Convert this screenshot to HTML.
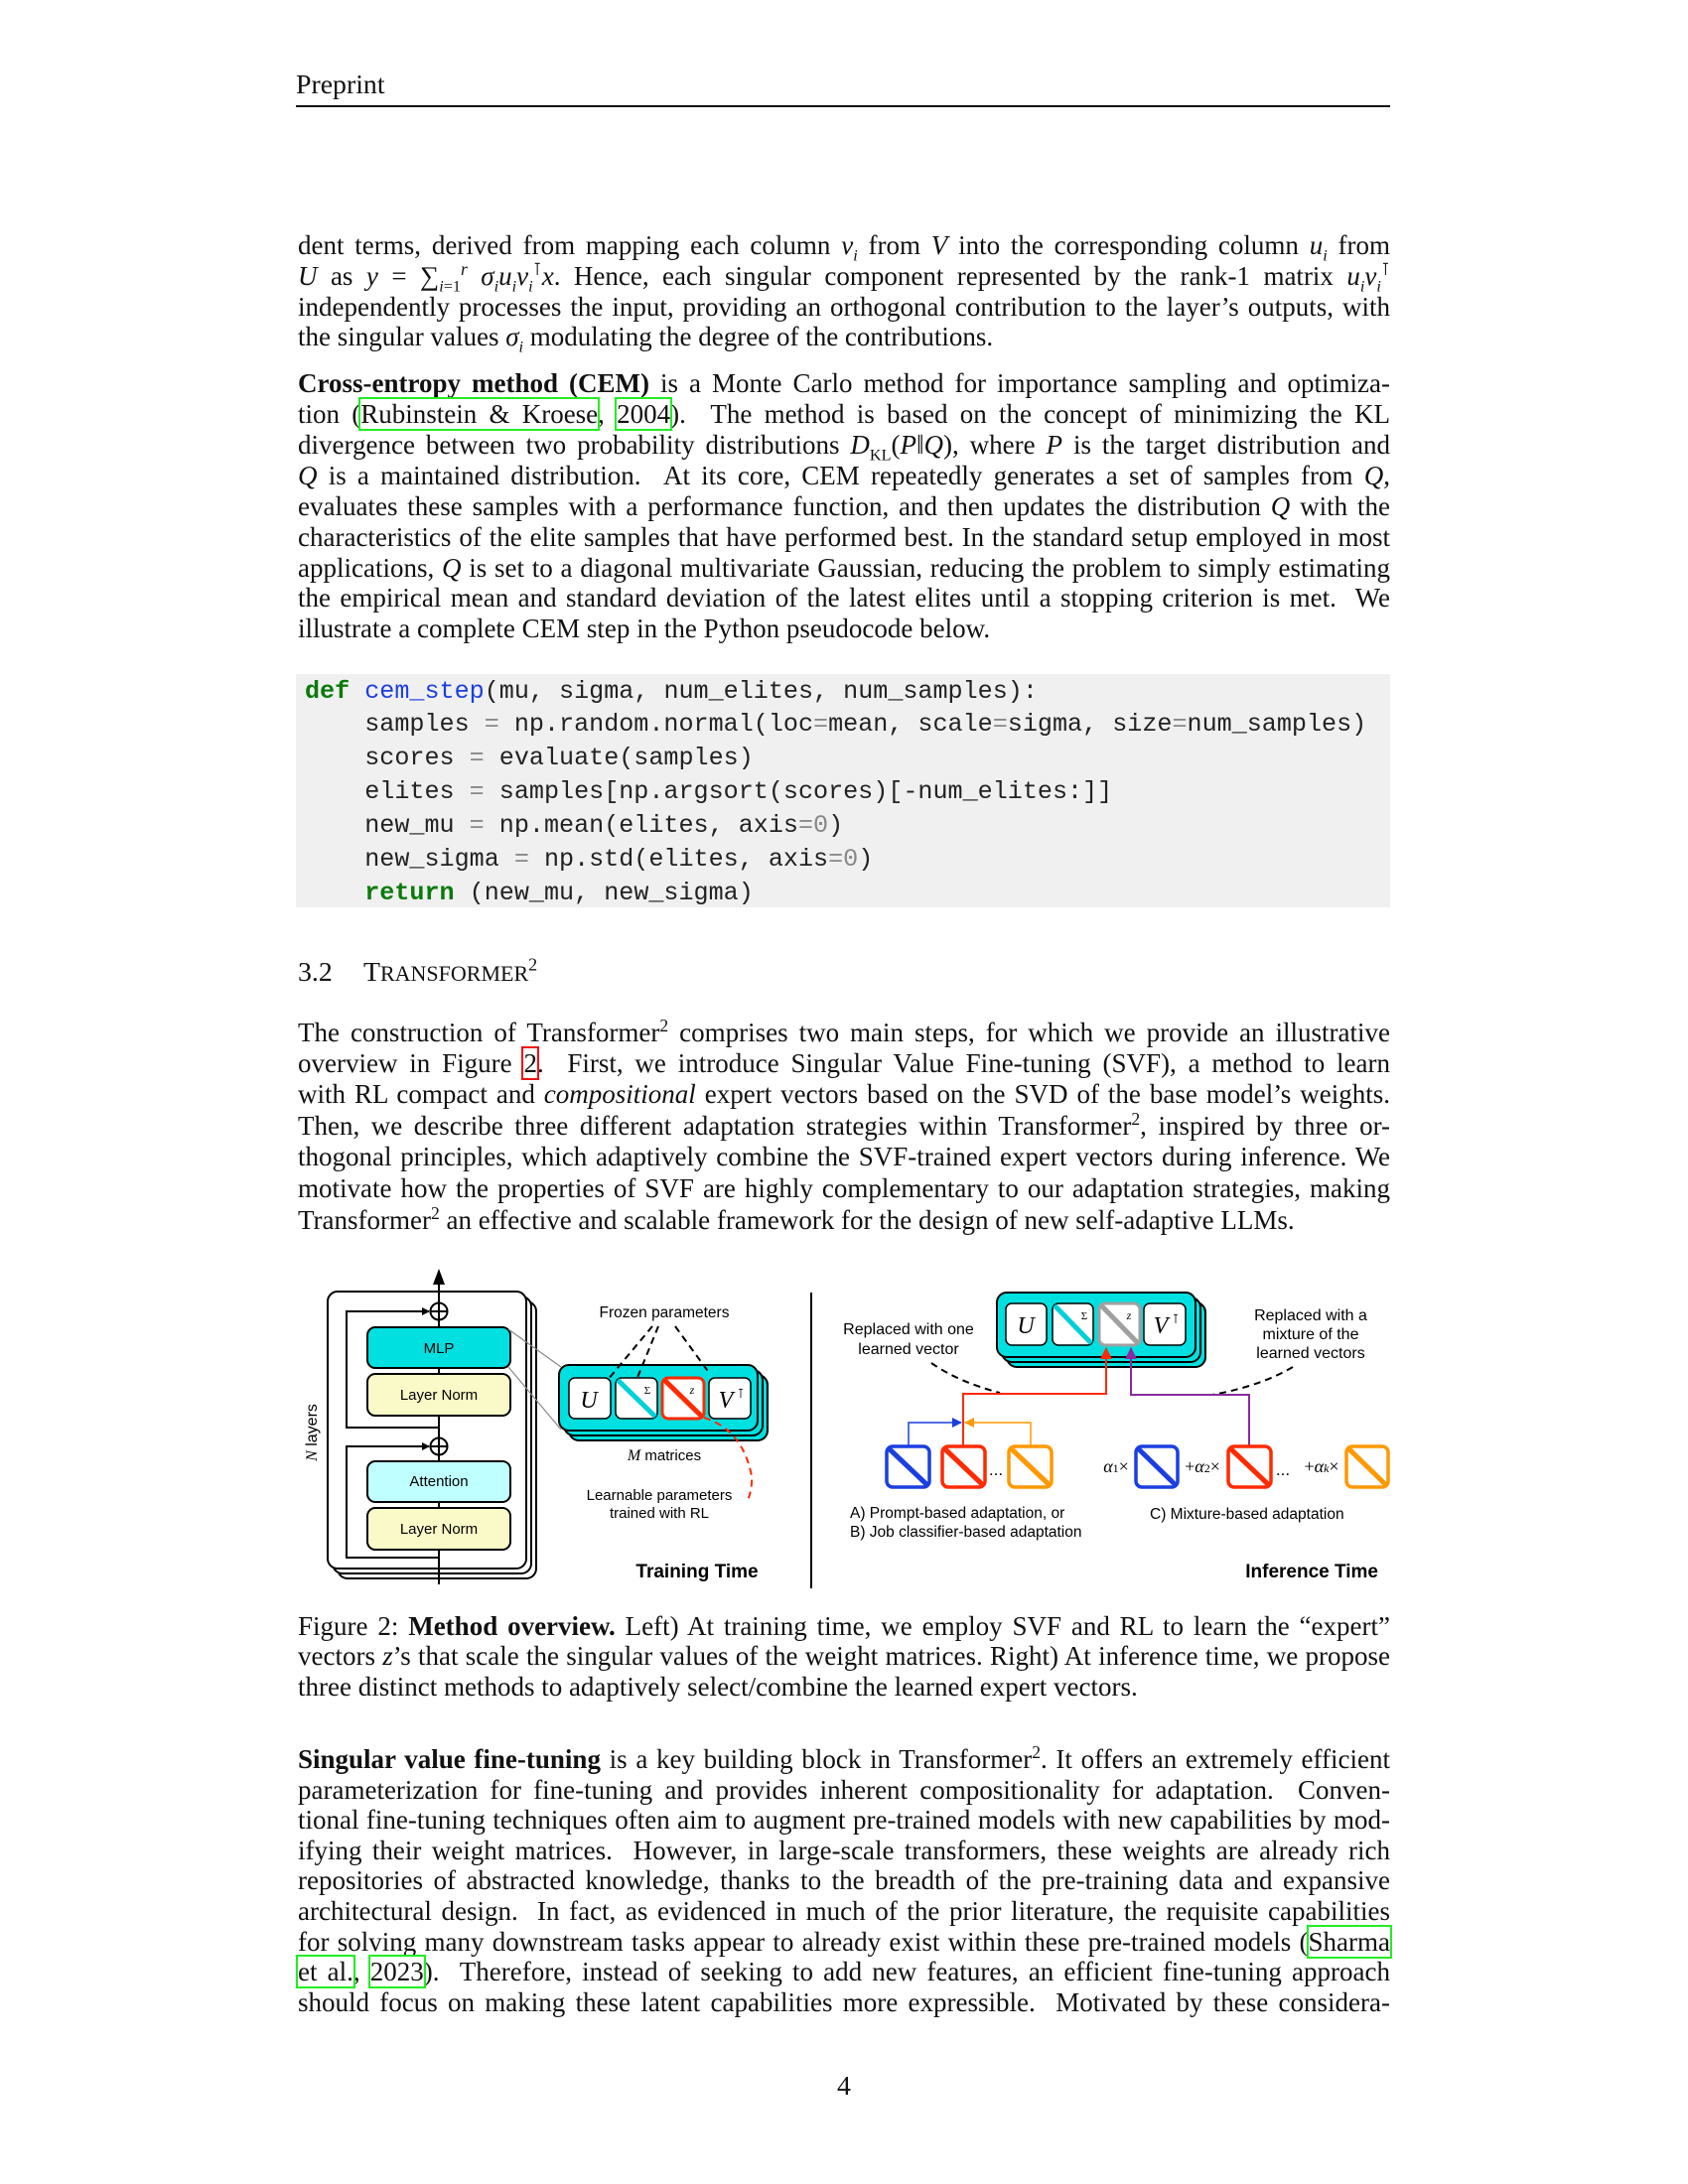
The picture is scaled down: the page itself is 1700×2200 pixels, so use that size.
<!DOCTYPE html>
<html><head><meta charset="utf-8">
<style>
html,body{margin:0;padding:0;background:#fff;}
body{width:1700px;height:2200px;position:relative;overflow:hidden;font-family:"Liberation Serif",serif;color:#111;}
.l{position:absolute;left:300px;width:1100px;font-size:27px;line-height:30px;height:30px;text-align:justify;text-align-last:justify;white-space:nowrap;}
.l.n{text-align-last:left;}
.c{position:absolute;left:307px;font-family:"Liberation Mono",monospace;font-size:25.1px;line-height:30px;white-space:pre;color:#222;}
.g{color:#0a7a0a;font-weight:bold;}
.b{color:#1a3fe0;}
.o{color:#888;}
i{font-style:italic;}
.lk{outline:2.5px solid #22ee22;outline-offset:0px;}
.rk{outline:2.5px solid #ee1111;}
sup{font-size:65%;line-height:0;}
</style></head><body>
<div style="position:absolute;left:298px;top:70px;font-size:27.8px;">Preprint</div>
<div style="position:absolute;left:298px;top:106px;width:1102px;height:2px;background:#111;"></div>

<div class="l" style="top:232px">dent terms, derived from mapping each column <i>v<sub style="font-size:60%">i</sub></i> from <i>V</i> into the corresponding column <i>u<sub style="font-size:60%">i</sub></i> from</div>
<div class="l" style="top:263px"><i>U</i> as <i>y</i> = ∑<sub style="font-size:60%"><i>i</i>=1</sub><sup><i>r</i></sup> <i>σ<sub style="font-size:60%">i</sub>u<sub style="font-size:60%">i</sub>v<sub style="font-size:60%">i</sub></i><sup>⊺</sup><i>x</i>. Hence, each singular component represented by the rank-1 matrix <i>u<sub style="font-size:60%">i</sub>v<sub style="font-size:60%">i</sub></i><sup>⊺</sup></div>
<div class="l" style="top:294px">independently processes the input, providing an orthogonal contribution to the layer’s outputs, with</div>
<div class="l n" style="top:324px">the singular values <i>σ<sub style="font-size:60%">i</sub></i> modulating the degree of the contributions.</div>

<div class="l" style="top:371px"><b>Cross-entropy method (CEM)</b> is a Monte Carlo method for importance sampling and optimiza-</div>
<div class="l" style="top:402px">tion (<span class="lk">Rubinstein &amp; Kroese</span>, <span class="lk">2004</span>). &nbsp;The method is based on the concept of minimizing the KL</div>
<div class="l" style="top:433px">divergence between two probability distributions <i>D</i><sub style="font-size:60%">KL</sub>(<i>P</i>‖<i>Q</i>), where <i>P</i> is the target distribution and</div>
<div class="l" style="top:464px"><i>Q</i> is a maintained distribution. &nbsp;At its core, CEM repeatedly generates a set of samples from <i>Q</i>,</div>
<div class="l" style="top:495px">evaluates these samples with a performance function, and then updates the distribution <i>Q</i> with the</div>
<div class="l" style="top:526px">characteristics of the elite samples that have performed best. In the standard setup employed in most</div>
<div class="l" style="top:557px">applications, <i>Q</i> is set to a diagonal multivariate Gaussian, reducing the problem to simply estimating</div>
<div class="l" style="top:587px">the empirical mean and standard deviation of the latest elites until a stopping criterion is met. &nbsp;We</div>
<div class="l n" style="top:618px">illustrate a complete CEM step in the Python pseudocode below.</div>

<div style="position:absolute;left:298px;top:679px;width:1102px;height:235px;background:#f0f0f0;"></div>
<div class="c" style="top:682px"><span class="g">def</span> <span class="b">cem_step</span>(mu, sigma, num_elites, num_samples):</div>
<div class="c" style="top:715px">    samples <span class="o">=</span> np.random.normal(loc<span class="o">=</span>mean, scale<span class="o">=</span>sigma, size<span class="o">=</span>num_samples)</div>
<div class="c" style="top:749px">    scores <span class="o">=</span> evaluate(samples)</div>
<div class="c" style="top:783px">    elites <span class="o">=</span> samples[np.argsort(scores)[-num_elites:]]</div>
<div class="c" style="top:817px">    new_mu <span class="o">=</span> np.mean(elites, axis<span class="o">=0</span>)</div>
<div class="c" style="top:851px">    new_sigma <span class="o">=</span> np.std(elites, axis<span class="o">=0</span>)</div>
<div class="c" style="top:885px">    <span class="g">return</span> (new_mu, new_sigma)</div>

<div style="position:absolute;left:300px;top:962px;font-size:27.8px;line-height:36px;white-space:nowrap;">3.2<span style="position:absolute;left:66px;">T<span style="font-size:22px">RANSFORMER</span><sup>2</sup></span></div>

<div class="l" style="top:1025px">The construction of Transformer<sup>2</sup> comprises two main steps, for which we provide an illustrative</div>
<div class="l" style="top:1056px">overview in Figure <span class="rk">2</span>. &nbsp;First, we introduce Singular Value Fine-tuning (SVF), a method to learn</div>
<div class="l" style="top:1087px">with RL compact and <i>compositional</i> expert vectors based on the SVD of the base model’s weights.</div>
<div class="l" style="top:1119px">Then, we describe three different adaptation strategies within Transformer<sup>2</sup>, inspired by three or-</div>
<div class="l" style="top:1150px">thogonal principles, which adaptively combine the SVF-trained expert vectors during inference. We</div>
<div class="l" style="top:1182px">motivate how the properties of SVF are highly complementary to our adaptation strategies, making</div>
<div class="l n" style="top:1214px">Transformer<sup>2</sup> an effective and scalable framework for the design of new self-adaptive LLMs.</div>

<svg style="position:absolute;left:0;top:0" width="1700" height="2200" viewBox="0 0 1700 2200" font-family="Liberation Sans, sans-serif">
<defs>
<marker id="ak" markerWidth="8" markerHeight="8" refX="7" refY="4" orient="auto" markerUnits="userSpaceOnUse"><path d="M0,0 L8,4 L0,8 z" fill="#000"/></marker>
<marker id="ar" markerWidth="12" markerHeight="12" refX="11" refY="6" orient="auto" markerUnits="userSpaceOnUse"><path d="M0,0 L12,6 L0,12 z" fill="#ff2a00"/></marker>
<marker id="ap" markerWidth="12" markerHeight="12" refX="11" refY="6" orient="auto" markerUnits="userSpaceOnUse"><path d="M0,0 L12,6 L0,12 z" fill="#8a2aa0"/></marker>
<marker id="ab" markerWidth="10" markerHeight="10" refX="9" refY="5" orient="auto" markerUnits="userSpaceOnUse"><path d="M0,0 L10,5 L0,10 z" fill="#1a3fe0"/></marker>
<marker id="ao" markerWidth="10" markerHeight="10" refX="9" refY="5" orient="auto" markerUnits="userSpaceOnUse"><path d="M0,0 L10,5 L0,10 z" fill="#ff9900"/></marker>
</defs>
<rect x="340" y="1311" width="200" height="279" rx="10" fill="#fff" stroke="#000" stroke-width="2"/>
<rect x="335" y="1306" width="200" height="279" rx="10" fill="#fff" stroke="#000" stroke-width="2"/>
<rect x="330" y="1301" width="200" height="279" rx="10" fill="#fff" stroke="#000" stroke-width="2"/>
<line x1="442" y1="1596" x2="442" y2="1284" stroke="#000" stroke-width="2"/>
<path d="M436,1294 L442,1278 L448,1294 z" fill="#000"/>
<polyline points="442,1438 349,1438 349,1321 432,1321" fill="none" stroke="#000" stroke-width="2" marker-end="url(#ak)"/>
<polyline points="442,1569 349,1569 349,1457 432,1457" fill="none" stroke="#000" stroke-width="2" marker-end="url(#ak)"/>
<circle cx="442" cy="1321" r="8.5" fill="#fff" stroke="#000" stroke-width="2"/>
<line x1="433.5" y1="1321" x2="450.5" y2="1321" stroke="#000" stroke-width="2"/><line x1="442" y1="1312.5" x2="442" y2="1329.5" stroke="#000" stroke-width="2"/>
<circle cx="442" cy="1457" r="8.5" fill="#fff" stroke="#000" stroke-width="2"/>
<line x1="433.5" y1="1457" x2="450.5" y2="1457" stroke="#000" stroke-width="2"/><line x1="442" y1="1448.5" x2="442" y2="1465.5" stroke="#000" stroke-width="2"/>
<rect x="370" y="1337" width="144" height="41" rx="8" fill="#00e0e0" stroke="#000" stroke-width="2"/>
<text x="442" y="1363" font-size="15" text-anchor="middle">MLP</text>
<rect x="370" y="1384" width="144" height="42" rx="8" fill="#fafac8" stroke="#000" stroke-width="2"/>
<text x="442" y="1410" font-size="15" text-anchor="middle">Layer Norm</text>
<rect x="370" y="1472" width="144" height="41" rx="8" fill="#c0ffff" stroke="#000" stroke-width="2"/>
<text x="442" y="1497" font-size="15" text-anchor="middle">Attention</text>
<rect x="370" y="1519" width="144" height="42" rx="8" fill="#fafac8" stroke="#000" stroke-width="2"/>
<text x="442" y="1545" font-size="15" text-anchor="middle">Layer Norm</text>
<text x="0" y="0" font-size="16" text-anchor="middle" transform="translate(319,1443) rotate(-90)"><tspan font-family="Liberation Serif, serif" font-style="italic">N</tspan> layers</text>
<line x1="512" y1="1339" x2="565" y2="1377" stroke="#888" stroke-width="1.2"/>
<line x1="512" y1="1377" x2="565" y2="1440" stroke="#888" stroke-width="1.2"/>
<rect x="573" y="1385" width="200" height="66" rx="10" fill="#00e0e0" stroke="#000" stroke-width="2"/>
<rect x="568" y="1380" width="200" height="66" rx="10" fill="#00e0e0" stroke="#000" stroke-width="2"/>
<rect x="563" y="1375" width="200" height="66" rx="10" fill="#00e0e0" stroke="#000" stroke-width="2"/>
<rect x="573" y="1388" width="42" height="41" rx="6" fill="#fff" stroke="#000" stroke-width="1.5"/>
<text x="593" y="1418" font-size="24" font-family="Liberation Serif, serif" font-style="italic" text-anchor="middle">U</text>
<rect x="620" y="1388" width="42" height="41" rx="6" fill="#fff" stroke="#000" stroke-width="1.5"/>
<line x1="622" y1="1390" x2="660" y2="1427" stroke="#00d0d8" stroke-width="5"/>
<text x="652" y="1404" font-size="11" font-family="Liberation Serif, serif" text-anchor="middle">Σ</text>
<rect x="667" y="1388" width="42" height="41" rx="6" fill="#fff" stroke="#ff2a00" stroke-width="3"/>
<line x1="669" y1="1390" x2="707" y2="1427" stroke="#ff2a00" stroke-width="5"/>
<text x="697" y="1404" font-size="12" font-family="Liberation Serif, serif" font-style="italic" text-anchor="middle">z</text>
<rect x="714" y="1388" width="42" height="41" rx="6" fill="#fff" stroke="#000" stroke-width="1.5"/>
<text x="731" y="1418" font-size="24" font-family="Liberation Serif, serif" font-style="italic" text-anchor="middle">V</text>
<text x="746" y="1408" font-size="13" text-anchor="middle">⊺</text>
<text x="669" y="1327" font-size="15.5" text-anchor="middle">Frozen parameters</text>
<g stroke="#000" stroke-width="2" stroke-dasharray="7,5" fill="none">
<line x1="657" y1="1336" x2="612" y2="1390"/>
<line x1="663" y1="1336" x2="641" y2="1390"/>
<line x1="680" y1="1336" x2="715" y2="1384"/>
</g>
<text x="669" y="1471" font-size="15" text-anchor="middle"><tspan font-family="Liberation Serif, serif" font-style="italic" font-size="16">M</tspan> matrices</text>
<text x="664" y="1511" font-size="15" text-anchor="middle">Learnable parameters</text>
<text x="664" y="1529" font-size="15" text-anchor="middle">trained with RL</text>
<path d="M709,1428 Q748,1440 757,1487 Q758,1500 752,1514" fill="none" stroke="#ff2a00" stroke-width="2" stroke-dasharray="7,5"/>
<text x="702" y="1589" font-size="19" font-weight="bold" text-anchor="middle">Training Time</text>
<line x1="817" y1="1302" x2="817" y2="1600" stroke="#000" stroke-width="2"/>
<rect x="1014" y="1312" width="200" height="65" rx="10" fill="#00e0e0" stroke="#000" stroke-width="2"/>
<rect x="1009" y="1307" width="200" height="65" rx="10" fill="#00e0e0" stroke="#000" stroke-width="2"/>
<rect x="1004" y="1302" width="200" height="65" rx="10" fill="#00e0e0" stroke="#000" stroke-width="2"/>
<rect x="1013" y="1313" width="41" height="42" rx="6" fill="#fff" stroke="#000" stroke-width="1.5"/>
<text x="1033" y="1343" font-size="24" font-family="Liberation Serif, serif" font-style="italic" text-anchor="middle">U</text>
<rect x="1060" y="1313" width="41" height="42" rx="6" fill="#fff" stroke="#000" stroke-width="1.5"/>
<line x1="1062" y1="1315" x2="1099" y2="1353" stroke="#00d0d8" stroke-width="5"/>
<text x="1092" y="1329" font-size="11" font-family="Liberation Serif, serif" text-anchor="middle">Σ</text>
<rect x="1107" y="1313" width="41" height="42" rx="6" fill="#fff" stroke="#a0a0a0" stroke-width="3"/>
<line x1="1109" y1="1315" x2="1146" y2="1353" stroke="#a0a0a0" stroke-width="5"/>
<text x="1137" y="1329" font-size="12" font-family="Liberation Serif, serif" font-style="italic" text-anchor="middle">z</text>
<rect x="1152" y="1313" width="42" height="42" rx="6" fill="#fff" stroke="#000" stroke-width="1.5"/>
<text x="1169" y="1343" font-size="24" font-family="Liberation Serif, serif" font-style="italic" text-anchor="middle">V</text>
<text x="1184" y="1333" font-size="13" text-anchor="middle">⊺</text>
<text x="915" y="1344" font-size="16" text-anchor="middle">Replaced with one</text>
<text x="915" y="1364" font-size="16" text-anchor="middle">learned vector</text>
<text x="1320" y="1330" font-size="16" text-anchor="middle">Replaced with a</text>
<text x="1320" y="1349" font-size="16" text-anchor="middle">mixture of the</text>
<text x="1320" y="1368" font-size="16" text-anchor="middle">learned vectors</text>
<path d="M938,1373 Q965,1392 1007,1403" fill="none" stroke="#000" stroke-width="2" stroke-dasharray="7,5"/>
<path d="M1302,1377 Q1270,1396 1221,1405" fill="none" stroke="#000" stroke-width="2" stroke-dasharray="7,5"/>
<polyline points="970,1457 970,1404 1114,1404 1114,1358" fill="none" stroke="#ff2a00" stroke-width="2" marker-end="url(#ar)"/>
<polyline points="1258,1457 1258,1405 1139,1405 1139,1358" fill="none" stroke="#8a2aa0" stroke-width="2" marker-end="url(#ap)"/>
<polyline points="915,1457 915,1433 968,1433" fill="none" stroke="#1a3fe0" stroke-width="1.5" marker-end="url(#ab)"/>
<polyline points="1038,1457 1038,1433 972,1433" fill="none" stroke="#ff9900" stroke-width="1.5" marker-end="url(#ao)"/>
<g stroke-width="3.5" fill="#fff">
<rect x="893" y="1457" width="43" height="41" rx="6" stroke="#1a3fe0"/>
<line x1="895" y1="1459" x2="934" y2="1496" stroke="#1a3fe0" stroke-width="5"/>
<rect x="949" y="1457" width="43" height="41" rx="6" stroke="#ff2a00"/>
<line x1="951" y1="1459" x2="990" y2="1496" stroke="#ff2a00" stroke-width="5"/>
<rect x="1016" y="1457" width="43" height="41" rx="6" stroke="#ff9900"/>
<line x1="1018" y1="1459" x2="1057" y2="1496" stroke="#ff9900" stroke-width="5"/>
<rect x="1144" y="1457" width="42" height="41" rx="6" stroke="#1a3fe0"/>
<line x1="1146" y1="1459" x2="1184" y2="1496" stroke="#1a3fe0" stroke-width="5"/>
<rect x="1237" y="1457" width="43" height="41" rx="6" stroke="#ff2a00"/>
<line x1="1239" y1="1459" x2="1278" y2="1496" stroke="#ff2a00" stroke-width="5"/>
<rect x="1356" y="1457" width="42" height="41" rx="6" stroke="#ff9900"/>
<line x1="1358" y1="1459" x2="1396" y2="1496" stroke="#ff9900" stroke-width="5"/>
</g>
<text x="1003" y="1486" font-size="17" text-anchor="middle">...</text>
<text x="1292" y="1486" font-size="17" text-anchor="middle">...</text>
<g font-size="18" font-family="Liberation Serif, serif" text-anchor="middle">
<text x="1124" y="1483"><tspan font-style="italic">α</tspan><tspan font-size="12">1</tspan>×</text>
<text x="1211" y="1483">+<tspan font-style="italic">α</tspan><tspan font-size="12">2</tspan>×</text>
<text x="1331" y="1483">+<tspan font-style="italic">α</tspan><tspan font-size="12" font-style="italic">k</tspan>×</text>
</g>
<text x="856" y="1529" font-size="15.5">A) Prompt-based adaptation, or</text>
<text x="856" y="1548" font-size="15.5">B) Job classifier-based adaptation</text>
<text x="1158" y="1530" font-size="15.5">C) Mixture-based adaptation</text>
<text x="1388" y="1589" font-size="19" font-weight="bold" text-anchor="end">Inference Time</text>
</svg>

<div class="l" style="top:1623px"><span style="white-space:nowrap">Figure 2:</span> <b>Method overview.</b> Left) At training time, we employ SVF and RL to learn the “expert”</div>
<div class="l" style="top:1653px">vectors <i>z</i>’s that scale the singular values of the weight matrices. Right) At inference time, we propose</div>
<div class="l n" style="top:1684px">three distinct methods to adaptively select/combine the learned expert vectors.</div>

<div class="l" style="top:1757px"><b>Singular value fine-tuning</b> is a key building block in Transformer<sup>2</sup>. It offers an extremely efficient</div>
<div class="l" style="top:1788px">parameterization for fine-tuning and provides inherent compositionality for adaptation. &nbsp;Conven-</div>
<div class="l" style="top:1818px">tional fine-tuning techniques often aim to augment pre-trained models with new capabilities by mod-</div>
<div class="l" style="top:1849px">ifying their weight matrices. &nbsp;However, in large-scale transformers, these weights are already rich</div>
<div class="l" style="top:1879px">repositories of abstracted knowledge, thanks to the breadth of the pre-training data and expansive</div>
<div class="l" style="top:1910px">architectural design. &nbsp;In fact, as evidenced in much of the prior literature, the requisite capabilities</div>
<div class="l" style="top:1941px">for solving many downstream tasks appear to already exist within these pre-trained models (<span class="lk">Sharma</span></div>
<div class="l" style="top:1971px"><span class="lk">et al.</span>, <span class="lk">2023</span>). &nbsp;Therefore, instead of seeking to add new features, an efficient fine-tuning approach</div>
<div class="l" style="top:2002px">should focus on making these latent capabilities more expressible. &nbsp;Motivated by these considera-</div>

<div style="position:absolute;left:0;width:1700px;top:2087px;text-align:center;font-size:27.8px;line-height:30px;">4</div>
</body></html>
